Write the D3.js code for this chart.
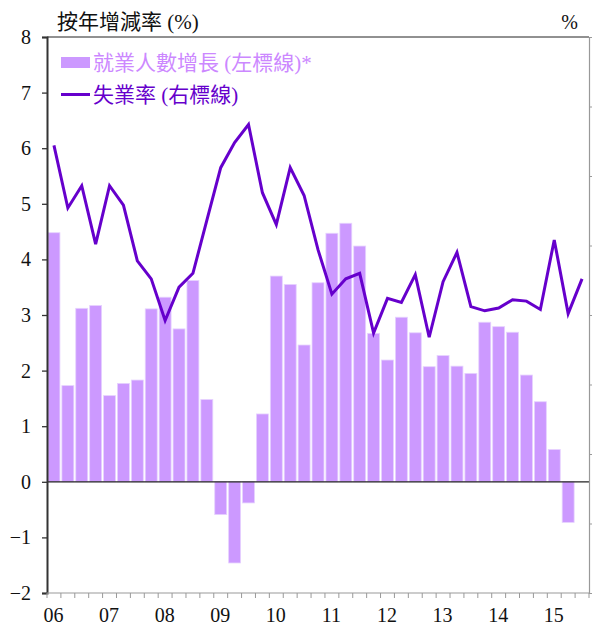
<!DOCTYPE html>
<html><head><meta charset="utf-8">
<script src="https://cdn.jsdelivr.net/npm/d3@7"></script>
<style>
html,body{margin:0;padding:0;background:#fff;}
svg{display:block;}
</style></head>
<body><svg id="c" width="592" height="626"></svg>
<script>
// ---- data ----
const years = ["06","07","08","09","10","11","12","13","14","15"];
const quarters = ["Q1","Q2","Q3","Q4"];
const yearTickLabels = ["06","07","08","09","10","11","12","13","14","15"];
// employment growth, y/y % (left axis), 2006Q1..2015Q2
const employmentGrowth = [4.48,1.73,3.12,3.17,1.55,1.77,1.83,3.11,3.32,2.75,3.62,1.48,
  -0.59,-1.46,-0.38,1.22,3.70,3.55,2.46,3.58,4.47,4.65,4.24,2.67,2.19,2.96,2.68,2.07,
  2.27,2.08,1.95,2.87,2.79,2.69,1.92,1.44,0.58,-0.73];
// unemployment rate, % (right axis, unlabelled), 2006Q1..2015Q3
const unemploymentRate = [5.22,4.77,4.93,4.51,4.93,4.79,4.39,4.26,3.96,4.20,4.30,4.68,
  5.06,5.24,5.37,4.88,4.65,5.06,4.86,4.47,4.15,4.26,4.30,3.87,4.12,4.09,4.29,3.84,
  4.24,4.45,4.06,4.03,4.05,4.11,4.10,4.04,4.54,4.01,4.26];
const leftTicks = [-2,-1,0,1,2,3,4,5,6,7,8];
const rightTicks = [2,2.5,3,3.5,4,4.5,5,5.5,6];
const legendLabels = ["就業人數增長 (左標線)*","失業率 (右標線)"];
const titleLeft = "按年增減率 (%)";
const titleRight = "%";

// ---- layout ----
const L = 47, R = 589, T = 37, B = 593;
const barColor = "#cc99ff", lineColor = "#6600cc";
const FONT = "'Times New Roman','Liberation Serif','DejaVu Serif','Noto Sans CJK TC',serif";
const cats = [];
years.forEach(y => quarters.forEach(q => cats.push(y + q)));
const categories = cats.slice(0, unemploymentRate.length);

const svg = d3.select("#c").attr("font-family", FONT);
const x = d3.scaleBand().domain(categories).range([L, R]).paddingInner(0.14).paddingOuter(0.07);
const y = d3.scaleLinear().domain([-2, 8]).range([B, T]);
const y2 = d3.scaleLinear().domain([2, 6]).range([B, T]);

// top border
svg.append("line").attr("x1", L).attr("x2", R).attr("y1", T).attr("y2", T)
  .attr("stroke", "#222").attr("stroke-width", 1);

// bars
svg.append("g").selectAll("rect").data(employmentGrowth).join("rect")
  .attr("x", (d, i) => x(categories[i]))
  .attr("width", x.bandwidth())
  .attr("y", d => y(Math.max(0, d)))
  .attr("height", d => Math.abs(y(d) - y(0)))
  .attr("fill", barColor)
  .attr("stroke", "#e6d2ff").attr("stroke-width", 0.8);

// zero line
svg.append("line").attr("x1", L).attr("x2", R).attr("y1", y(0)).attr("y2", y(0))
  .attr("stroke", "#222").attr("stroke-width", 1.2);

// line
const line = d3.line()
  .x((d, i) => x(categories[i]) + x.bandwidth() / 2)
  .y(d => y2(d));
svg.append("path").datum(unemploymentRate).attr("d", line)
  .attr("fill", "none").attr("stroke", lineColor).attr("stroke-width", 3)
  .attr("stroke-linejoin", "miter");

// left axis
const gl = svg.append("g").attr("transform", `translate(${L},0)`)
  .call(d3.axisLeft(y).tickValues(leftTicks).tickSize(5).tickPadding(11).tickFormat(d3.format("d")));
gl.attr("font-family", FONT).attr("font-size", 20);
gl.select(".domain").attr("stroke", "#333").attr("stroke-width", 2);
gl.selectAll(".tick line").attr("stroke", "#333").attr("stroke-width", 1.3);
gl.selectAll(".tick text").attr("fill", "#111");

// right axis
const gr = svg.append("g").attr("transform", `translate(${R},0)`)
  .call(d3.axisRight(y2).tickValues(rightTicks).tickSize(3).tickFormat(""));
gr.select(".domain").attr("stroke", "#999").attr("stroke-width", 1.2);
gr.selectAll(".tick line").attr("stroke", "#999");

// bottom axis
const gb = svg.append("g").attr("transform", `translate(0,${B})`);
const boundaries = categories.map(c => x(c) - x.step() * x.paddingInner() / 2);
boundaries.push(R);
gb.append("line").attr("x1", L).attr("x2", R).attr("stroke", "#999").attr("stroke-width", 1.2);
gb.selectAll("line.t").data(boundaries).join("line").attr("class", "t")
  .attr("x1", d => d).attr("x2", d => d).attr("y1", 0).attr("y2", 5)
  .attr("stroke", "#999").attr("stroke-width", 1);
gb.selectAll("text").data(yearTickLabels).join("text")
  .attr("x", (d, i) => x(years[i] + "Q1") + x.bandwidth() / 2 - 0.5)
  .attr("y", 29).attr("text-anchor", "middle")
  .attr("font-size", 20).attr("fill", "#111").text(d => d);

// titles
svg.append("text").attr("x", 57).attr("y", 29).attr("font-size", 21)
  .attr("fill", "#111").text(titleLeft);
svg.append("text").attr("x", 578).attr("y", 29).attr("text-anchor", "end").attr("font-size", 20)
  .attr("fill", "#111").text(titleRight);

// legend
const lg = svg.append("g");
lg.append("rect").attr("x", 61).attr("y", 57).attr("width", 29).attr("height", 11).attr("fill", barColor);
lg.append("text").attr("x", 93).attr("y", 70).attr("font-size", 21).attr("fill", "#cc88ff").text(legendLabels[0]);
lg.append("line").attr("x1", 61).attr("x2", 90).attr("y1", 94.5).attr("y2", 94.5)
  .attr("stroke", lineColor).attr("stroke-width", 3);
lg.append("text").attr("x", 93).attr("y", 102).attr("font-size", 21).attr("fill", lineColor).text(legendLabels[1]);
</script></body></html>
